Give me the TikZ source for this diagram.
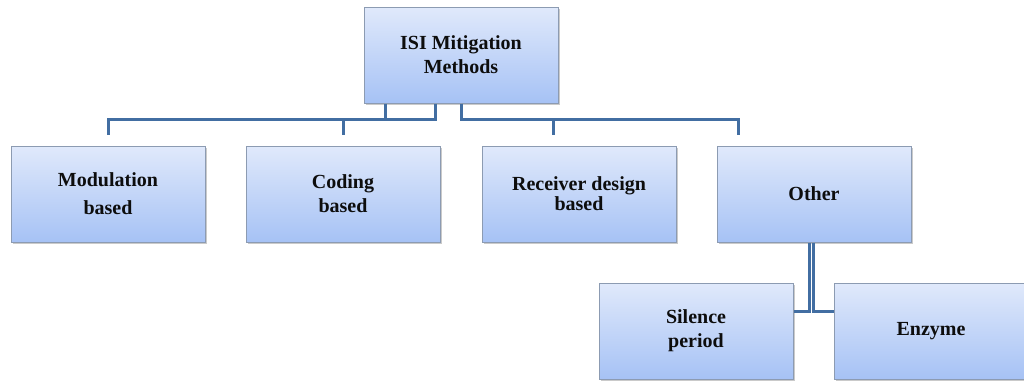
\documentclass[tikz,border=0pt]{standalone}
\usepackage{fontspec}
\setmainfont{Liberation Serif}
\usetikzlibrary{calc}
\usetikzlibrary{shadows}

\definecolor{linkblue}{RGB}{66,110,162}
\definecolor{boxedge}{RGB}{140,155,178}
\definecolor{boxtop}{RGB}{224,233,251}
\definecolor{boxbottom}{RGB}{166,194,245}

\begin{document}
\begin{tikzpicture}[x=0.5pt,y=-0.5pt,
    box/.style={draw=boxedge,line width=0.5pt,top color=boxtop,bottom color=boxbottom,
        minimum width=97pt,minimum height=48pt,align=center,
        font=\bfseries\fontsize{10pt}{12pt}\selectfont,text=black!95,
        drop shadow={shadow xshift=1.2pt,shadow yshift=-1.2pt,opacity=0.35,fill=black!60}},
    link/.style={draw=linkblue,line width=1.5pt}]
    \useasboundingbox (0,0) rectangle (1024,381);

    % root and first level
    \node[box] (top) at (461,55) {ISI Mitigation\\Methods};
    \node[box] (mod) at (108,194) {Modulation\\[2pt]based};
    \node[box] (cod) at (343,194) {Coding\\based};
    \node[box] (rec) at (579,194) {Receiver design\\[-2pt]based};
    \node[box] (oth) at (814,194) {Other};

    % second level under Other
    \node[box] (sil) at (696,331) {Silence\\period};
    \node[box] (enz) at (931,331) {Enzyme};

    % ends of the drops, a little above each box
    \coordinate (bus) at (0,119);
    \coordinate (split) at (0,311);
    \coordinate (modend) at ($(mod.north)+(0,-11)$);
    \coordinate (codend) at ($(cod.north)+(0,-11)$);
    \coordinate (recend) at ($(rec.north)+(-26,-11)$);
    \coordinate (othend) at ($(oth.north)+(-76,-11)$);

    % elbow connectors
    \draw[link] ($(top.south)+(-76,0)$) |- (modend |- bus) -- (modend);
    \draw[link] ($(top.south)+(-26,0)$) |- (codend |- bus) -- (codend);
    \draw[link] ($(top.south)+(0,0)$) |- (recend |- bus) -- (recend);
    \draw[link] ($(top.south)+(0,0)$) |- (othend |- bus) -- (othend);

    \draw[link] ($(oth.south)+(-5,0)$) |- (sil.east |- split);
    \draw[link] ($(oth.south)+(-1,0)$) |- (enz.west |- split);
\end{tikzpicture}
\end{document}
